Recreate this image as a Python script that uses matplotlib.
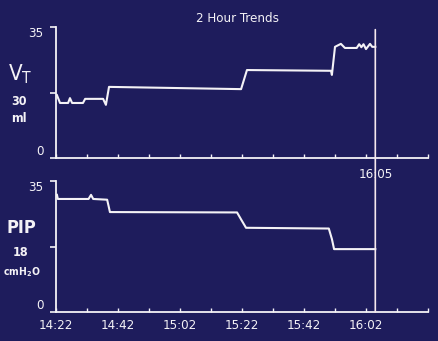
import matplotlib
matplotlib.use("Agg")
import matplotlib.pyplot as plt
from matplotlib.patches import ConnectionPatch
import numpy as np

# minutes after 14:22
vt_time = [0.3, 1.3, 3.9, 4.5, 5.2, 8.7, 9.4, 15.2, 16.1, 17.1, 59.7, 61.6,
           88.7, 89.0, 90.0, 91.9, 93.2, 97.0, 97.8, 98.5, 99.2, 100.0, 101.3, 102.0, 103.0]
vt_vals = [16.8, 14.7, 14.7, 16.0, 14.7, 14.7, 15.8, 15.8, 14.2, 19.0, 18.4, 23.5,
           23.3, 22.2, 29.7, 30.5, 29.4, 29.4, 30.4, 29.6, 30.4, 29.1, 30.5, 29.7, 29.7]

pip_time = [0.3, 0.6, 10.5, 11.3, 12.0, 16.5, 17.4, 58.4, 59.8, 61.3,
            88.0, 89.0, 89.7, 103.0]
pip_vals = [31.3, 30.2, 30.2, 31.3, 30.2, 30.0, 26.7, 26.6, 24.6, 22.5,
            22.3, 19.5, 16.8, 16.8]

tick_pos = [0, 20, 40, 60, 80, 100]
tick_labels = ["14:22", "14:42", "15:02", "15:22", "15:42", "16:02"]
cursor_time = 103
cursor_label = "16:05"

bg = "#1e1c5c"
fg = "#f4f2f6"
plt.rcParams["font.family"] = ["DejaVu Sans"]
plt.rcParams["font.stretch"] = "condensed"

fig = plt.figure(figsize=(4.39, 3.41), dpi=100, facecolor=bg)
W, H = 439, 341


def px_axes(x0, y_top, x1, y_bot):
    return fig.add_axes([x0 / W, 1 - y_bot / H, (x1 - x0) / W, (y_bot - y_top) / H])


ax1 = px_axes(56, 27, 428, 158)
ax2 = px_axes(56, 181, 428, 312)

for ax in (ax1, ax2):
    ax.set_facecolor(bg)
    ax.set_xlim(0, 120)
    ax.set_ylim(0, 35)
    for s in ("top", "right"):
        ax.spines[s].set_visible(False)
    for s in ("left", "bottom"):
        ax.spines[s].set_color(fg)
        ax.spines[s].set_linewidth(1.3)
    ax.set_xticks(np.arange(0, 121, 10))
    ax.tick_params(axis="x", direction="in", length=3, width=1, color=fg,
                   labelcolor=fg, labelsize=9.5, pad=5)
    ax.set_yticks([0, 17.5, 35])
    ax.set_yticklabels(["0", "", "35"])
    ax.tick_params(axis="y", direction="out", length=4, width=1.2, color=fg,
                   labelcolor=fg, labelsize=9.5, pad=5)
    lbls = ax.get_yticklabels()
    lbls[0].set_va("bottom")
    lbls[2].set_va("top")

ax1.set_xticklabels([])
ax2.set_xticks(tick_pos, tick_labels)
ax2.set_xticks(np.arange(0, 121, 10), minor=True)
ax2.tick_params(axis="x", which="minor", direction="in", length=3, width=1, color=fg)

ax1.plot(vt_time, vt_vals, color=fg, lw=1.5, solid_joinstyle="round")
ax2.plot(pip_time, pip_vals, color=fg, lw=1.5, solid_joinstyle="round")

# cursor line spanning both panels
con = ConnectionPatch(xyA=(cursor_time, 34.3), coordsA=ax1.transData,
                      xyB=(cursor_time, 0), coordsB=ax2.transData,
                      color="#f6e8ee", lw=1.2)
fig.add_artist(con)
ax2.annotate(cursor_label, xy=(cursor_time, 1), xycoords=("data", "axes fraction"),
             xytext=(0, 5), textcoords="offset points", ha="center", va="center",
             color=fg, fontsize=9.5)

fig.text(238 / W, 1 - 18 / H, "2 Hour Trends", color=fg, fontsize=9.5,
         ha="center", va="center")

# left side labels
fig.text(20 / W, 1 - 74 / H, r"V$_\mathregular{T}$", color=fg, fontsize=16,
         ha="center", va="center")
fig.text(19 / W, 1 - 102 / H, "30", color=fg, fontsize=9, ha="center", va="center",
         fontweight="bold")
fig.text(19 / W, 1 - 119 / H, "ml", color=fg, fontsize=9, ha="center", va="center",
         fontweight="bold")
fig.text(21 / W, 1 - 228 / H, "PIP", color=fg, fontsize=13, ha="center", va="center",
         fontweight="bold")
fig.text(21 / W, 1 - 253 / H, "18", color=fg, fontsize=9, ha="center", va="center",
         fontweight="bold")
fig.text(22 / W, 1 - 272 / H, r"cmH$_\mathregular{2}$O", color=fg, fontsize=7.5,
         ha="center", va="center", fontweight="bold")

fig.savefig("out.png", dpi=100, facecolor=bg)
